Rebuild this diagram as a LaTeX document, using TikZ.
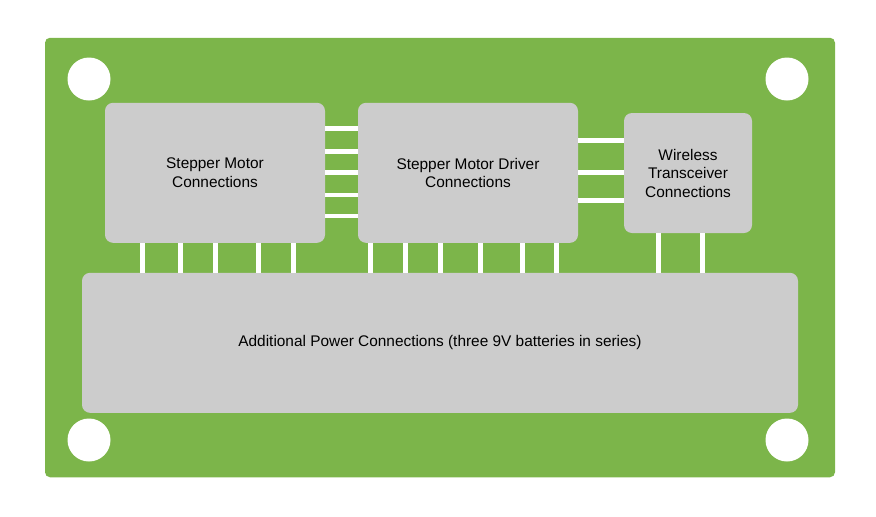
\documentclass[tikz,border=0pt]{standalone}
\usepackage{fontspec}
\setmainfont{Liberation Sans}
\usepackage{tikz}
\definecolor{board}{HTML}{7CB54A}
\definecolor{part}{HTML}{CCCCCC}

\begin{document}
\begin{tikzpicture}[x=1pt,y=-1pt,
    part/.style={fill=part,rounded corners=8pt,align=center,inner sep=0pt,
      font=\fontsize{15.4}{18.5}\selectfont},
    hole/.style={circle,fill=white,minimum size=43pt,inner sep=0pt},
    wire/.style={draw=white,line width=4.6pt}]
    \useasboundingbox (0,0) rectangle (876,517);
    \node [fill=board,rounded corners=5pt,minimum width=790pt,minimum
    height=439.5pt] (pcb) at (440,257.5) {};
    \foreach\n/\x/\y in{h1/89/79,h2/787/79,h3/89/440,h4/787/440}{
      \node [hole] (\n) at (\x,\y) {};};
    \node [part,minimum width=220pt,minimum height=140pt] (motor) at
    (215,172.8) {Stepper Motor\\Connections};
    \node [part,minimum width=220pt,minimum height=140pt] (driver) at
    (468,172.8) {Stepper Motor Driver\\Connections};
    \node [part,minimum width=128pt,minimum height=120pt] (radio) at
    (688,173) {Wireless\\Transceiver\\Connections};
    \node [part,minimum width=716pt,minimum height=140pt] (power) at
    (440,342.8) {Additional Power Connections (three 9V batteries in series)};
    \foreach\y in{128.5,151.5,172.5,195,216}{
      \draw[wire] (motor.east |- 0,\y) -- (driver.west |- 0,\y);};
    \foreach\y in{140.5,172.5,200.5}{
      \draw[wire] (driver.east |- 0,\y) -- (radio.west |- 0,\y);};
    \foreach\x in{142.5,180.5,215.5,258.5,293.5}{
      \draw[wire] (motor.south -| \x,0) -- (power.north -| \x,0);};
    \foreach\x in{370.5,405.5,440.5,480.5,522.5,556.5}{
      \draw[wire] (driver.south -| \x,0) -- (power.north -| \x,0);};
    \foreach\x in{658.5,702.5}{
      \draw[wire] (radio.south -| \x,0) -- (power.north -| \x,0);};
  \end{tikzpicture}
\end{document}
